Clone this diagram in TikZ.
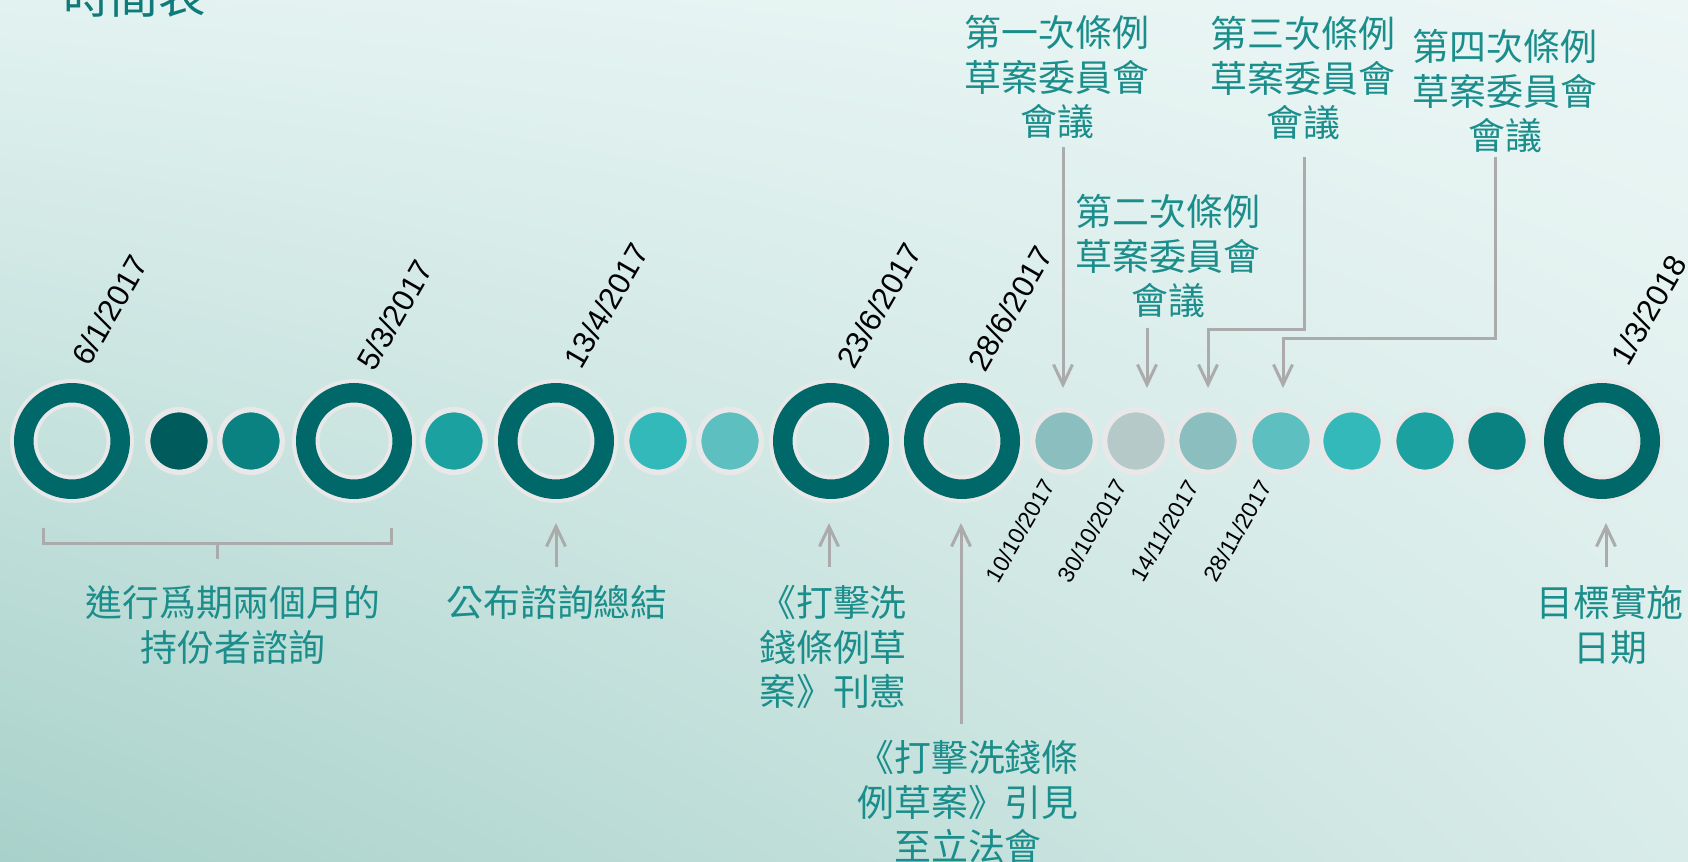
\documentclass[tikz,border=0pt]{standalone}
\usepackage{fontspec}
\setmainfont{Liberation Sans}
\newfontfamily\cjk{Noto Sans CJK TC}
\usetikzlibrary{arrows.meta, calc, shadings}
\definecolor{ringteal}{HTML}{006868}
\definecolor{rim}{HTML}{E8E8E8}
\definecolor{dotA}{HTML}{005C5C}
\definecolor{dotB}{HTML}{0B8282}
\definecolor{dotC}{HTML}{1CA1A1}
\definecolor{dotD}{HTML}{33B9B9}
\definecolor{dotE}{HTML}{5DBFBF}
\definecolor{dotF}{HTML}{8BBFBF}
\definecolor{dotG}{HTML}{B4C9C8}
\definecolor{labelteal}{HTML}{1B8E8C}
\definecolor{titleteal}{HTML}{0E7A79}
\definecolor{arrowgrey}{HTML}{ABABAB}
\definecolor{bgTL}{HTML}{E2F2F0}
\definecolor{bgTR}{HTML}{EBF6F5}
\definecolor{bgBL}{HTML}{A8D1CA}
\definecolor{bgBR}{HTML}{D9ECE9}
\tikzset{
    x=0.02cm, y=-0.02cm, % one unit is one pixel of the slide, y runs downwards
    ring/.style={circle, draw=rim, line width=0.08cm, double=ringteal, double distance=0.39cm, minimum size=1.93cm, inner sep=0pt}, % big milestone
    dot/.style={circle, fill=#1, draw=rim, line width=0.108cm, minimum size=1.252cm, inner sep=0pt}, % small step
    date/.style={rotate=60, anchor=base west, inner sep=0pt, font=\fontsize{17.6}{21}\selectfont}, % dates above
    smalldate/.style={rotate=60, anchor=base east, inner sep=0pt, font=\fontsize{13}{16}\selectfont}, % dates below
    event/.style={text=labelteal, align=center, inner sep=0pt, font=\cjk\fontsize{21}{25.5}\selectfont},
    pointer/.style={draw=arrowgrey, line width=0.06cm, -{Straight Barb[length=0.4cm, width=0.38cm]}},
    bracketline/.style={draw=arrowgrey, line width=0.06cm},
}
\begin{document}
\begin{tikzpicture}
    \useasboundingbox (0,0) rectangle (1688,862);
    \clip (0,0) rectangle (1688,862);
    \shade[upper left=bgTL, upper right=bgTR, lower left=bgBL, lower right=bgBR] (0,0) rectangle (1688,862);

    \node[anchor=base west, inner sep=0pt, text=titleteal, font=\cjk\fontsize{27}{32}\selectfont] (title) at (63,13) {時間表};

    \node[ring] (r1) at (72,441) {};
    \node[dot=dotA] (d1) at (179,441) {};
    \node[dot=dotB] (d2) at (251,441) {};
    \node[ring] (r2) at (354,441) {};
    \node[dot=dotC] (d3) at (454,441) {};
    \node[ring] (r3) at (556,441) {};
    \node[dot=dotD] (d4) at (658,441) {};
    \node[dot=dotE] (d5) at (730,441) {};
    \node[ring] (r4) at (831,441) {};
    \node[ring] (r5) at (962,441) {};
    \node[dot=dotF] (d6) at (1064,441) {};
    \node[dot=dotG] (d7) at (1136,441) {};
    \node[dot=dotF] (d8) at (1208,441) {};
    \node[dot=dotE] (d9) at (1281,441) {};
    \node[dot=dotD] (d10) at (1352,441) {};
    \node[dot=dotC] (d11) at (1425,441) {};
    \node[dot=dotB] (d12) at (1497,441) {};
    \node[ring] (r6) at (1602,441) {};

    \node[date] (t1) at (89,368) {6/1/2017};
    \node[date] (t2) at (374,373) {5/3/2017};
    \node[date] (t3) at (581,371) {13/4/2017};
    \node[date] (t4) at (854,371) {23/6/2017};
    \node[date] (t5) at (985,374) {28/6/2017};
    \node[date] (t6) at (1628,368) {1/3/2018};

    \node[smalldate] (s1) at (1056,485) {10/10/2017};
    \node[smalldate] (s2) at (1128,485) {30/10/2017};
    \node[smalldate] (s3) at (1200,486) {14/11/2017};
    \node[smalldate] (s4) at (1273,486) {28/11/2017};

    \node[event] (l1) at (233,625) {進行爲期兩個月的\\持份者諮詢};
    \node[event] (l2) at (557,602) {公布諮詢總結};
    \node[event] (l3) at (833,647) {《打擊洗\\錢條例草\\案》刊憲};
    \node[event] (l4) at (968,802) {《打擊洗錢條\\例草案》引見\\至立法會};
    \node[event] (l5) at (1610,625) {目標實施\\日期};
    \node[event] (m1) at (1057,77) {第一次條例\\草案委員會\\會議};
    \node[event] (m2) at (1168,256) {第二次條例\\草案委員會\\會議};
    \node[event] (m3) at (1303,78) {第三次條例\\草案委員會\\會議};
    \node[event] (m4) at (1505,91) {第四次條例\\草案委員會\\會議};

    \coordinate (e1) at (1063,388);
    \coordinate (e2) at (1147,388);
    \coordinate (e3) at (1208,388);
    \coordinate (e4) at (1283,388);
    \coordinate (u2) at (556,523);
    \coordinate (u3) at (829,523);
    \coordinate (u4) at (961,523);
    \coordinate (u5) at (1606,523);

    \draw[pointer] ($(m1.south -| e1)+(0,8)$) -- (e1);
    \draw[pointer] ($(m2.south -| e2)+(0,10)$) -- (e2);
    \draw[pointer] ($(m3.south)+(1,17)$) |- ($(e3)+(0,-59)$) -- (e3);
    \draw[pointer] ($(m4.south)+(-10,4)$) |- ($(e4)+(0,-50)$) -- (e4);

    \draw[pointer] ($(l2.north -| u2)+(0,-18)$) -- (u2);
    \draw[pointer] ($(l3.north -| u3)+(0,-18)$) -- (u3);
    \draw[pointer] ($(l4.north -| u4)+(0,-16)$) -- (u4);
    \draw[pointer] ($(l5.north -| u5)+(0,-18)$) -- (u5);

    \draw[bracketline] (43,528) -- (43,543) -- (391,543) -- (391,528) (217,543) -- (217,559);
\end{tikzpicture}
\end{document}
